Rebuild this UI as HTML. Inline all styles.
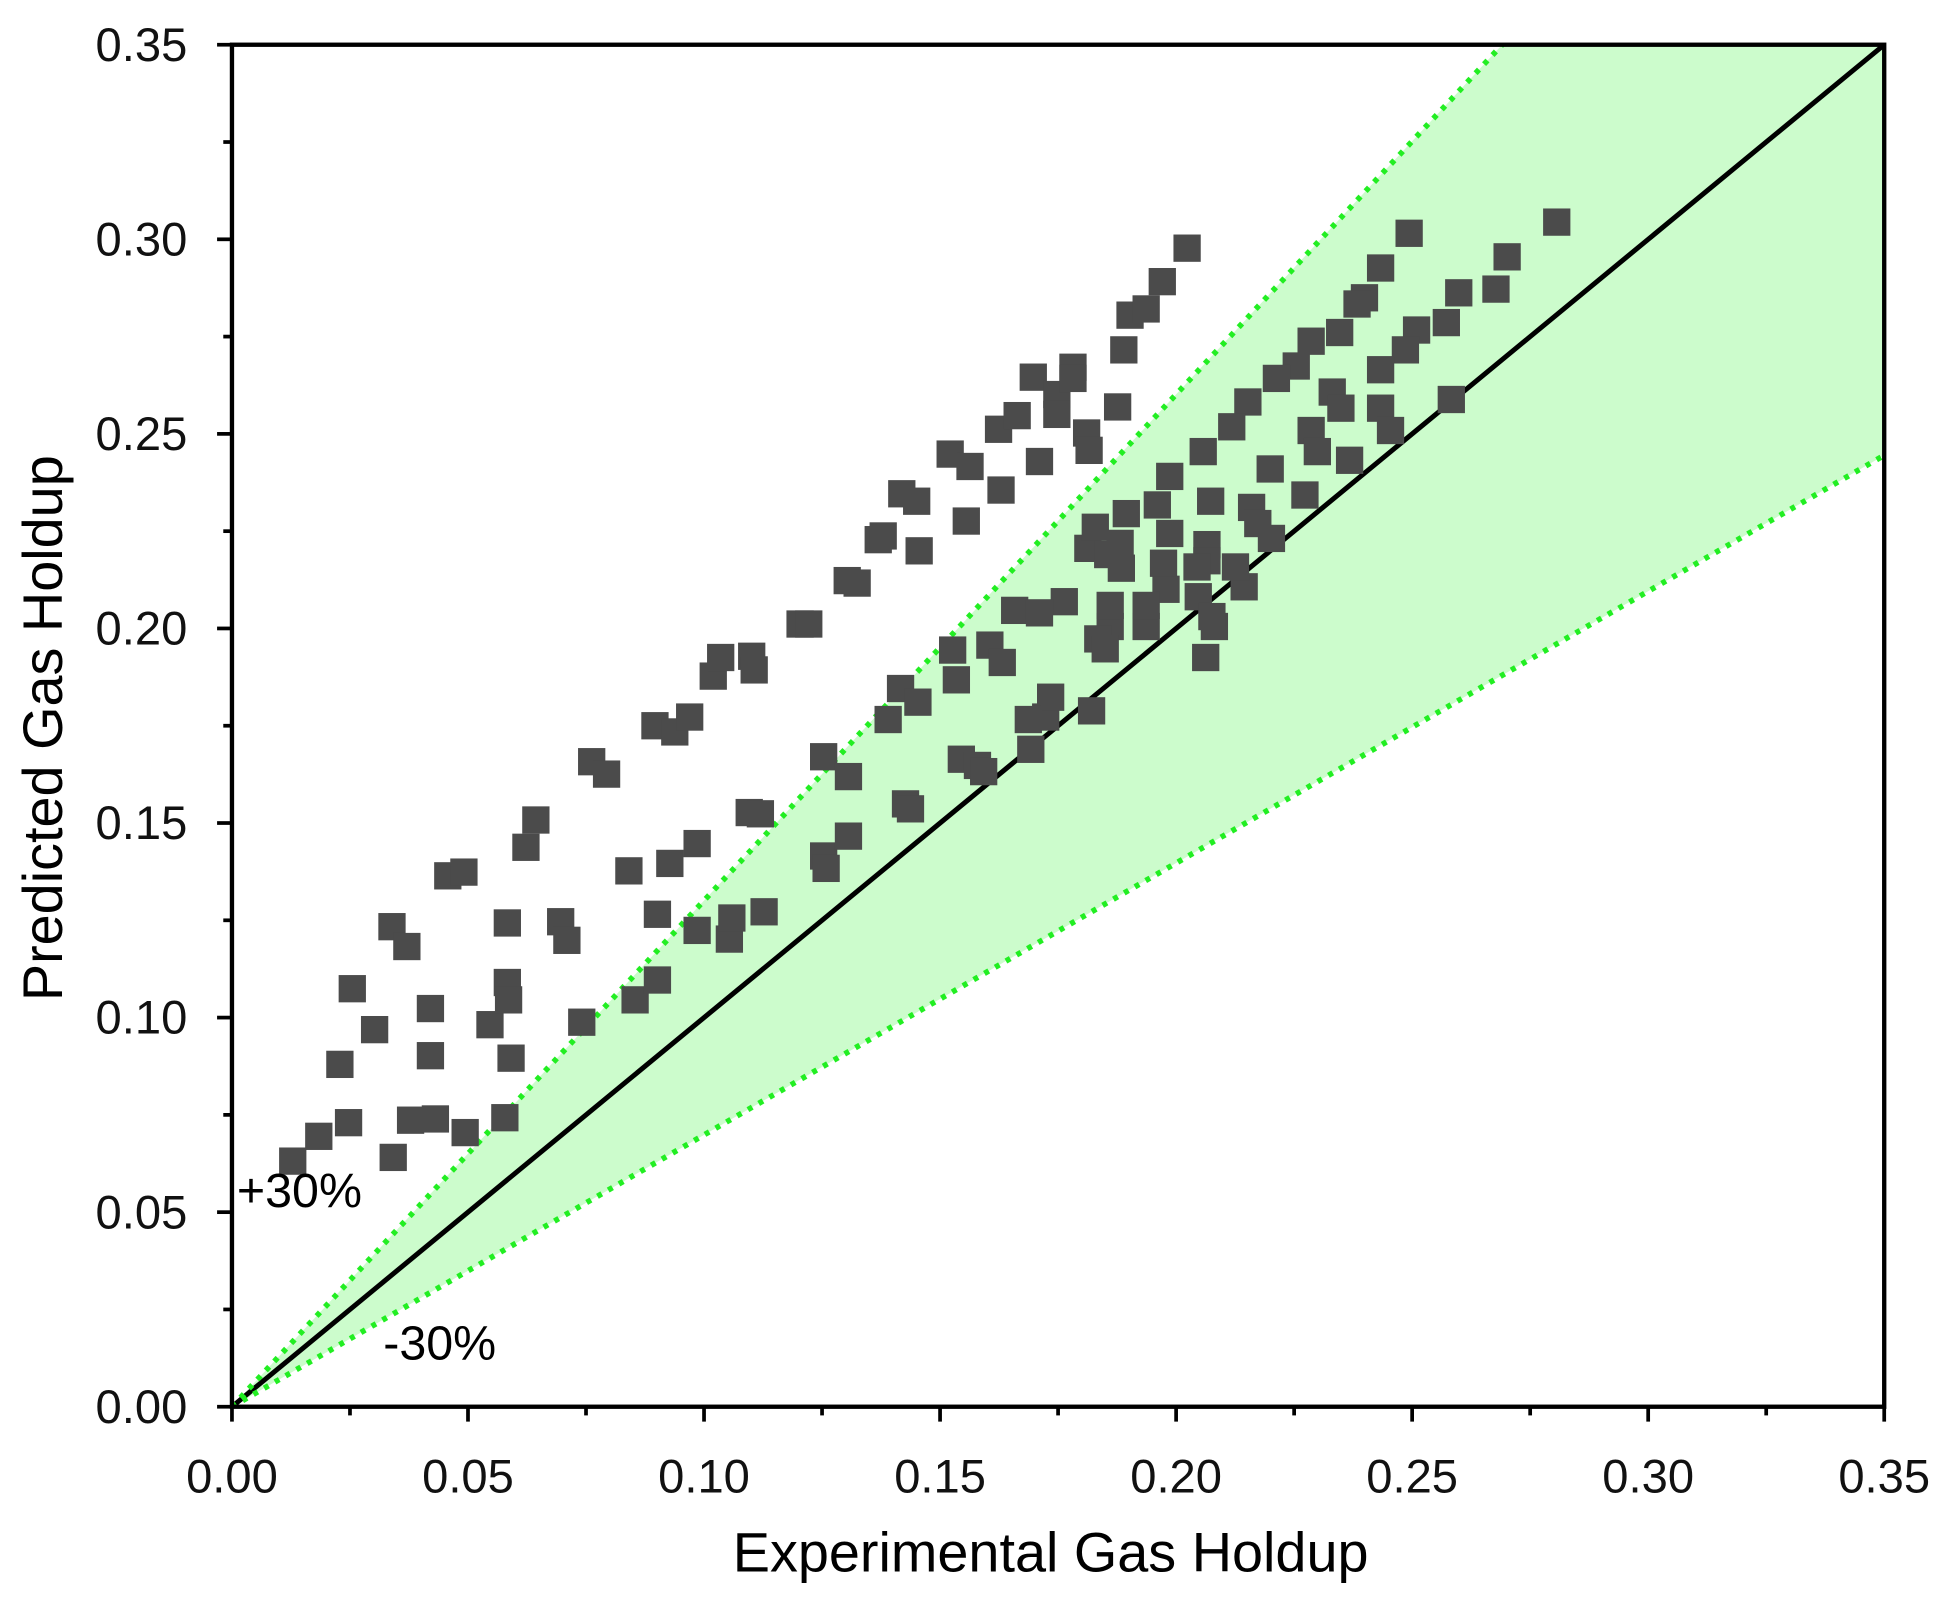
<!DOCTYPE html>
<html><head><style>html,body{margin:0;padding:0;background:#fff}svg{display:block}</style></head>
<body>
<svg width="1945" height="1609" viewBox="0 0 1568 1297" xmlns="http://www.w3.org/2000/svg" font-family="Liberation Sans, Arial, sans-serif">
<polygon points="187,1134 1211,36 1519,36 1519,367" fill="#ccfccc"/>
<line x1="187" y1="1134" x2="1519" y2="36" stroke="#000" stroke-width="4"/>
<line x1="187" y1="1134" x2="1211" y2="36" stroke="#22ee22" stroke-width="4.5" stroke-dasharray="4,6"/>
<line x1="187" y1="1134" x2="1519" y2="367" stroke="#22ee22" stroke-width="4.5" stroke-dasharray="4,6"/>
<g fill="#4b4b4b" id="pts"></g>
<rect x="187" y="36" width="1332" height="1098" fill="none" stroke="#000" stroke-width="3.5"/>
<g stroke="#000" stroke-width="3" id="ticks"></g>
<g font-size="38" fill="#111" id="labels"></g>
<text x="191" y="973" font-size="39">+30%</text>
<text x="309" y="1096" font-size="39">-30%</text>
<text x="847" y="1267" font-size="45" text-anchor="middle">Experimental Gas Holdup</text>
<text transform="translate(50,587) rotate(-90)" font-size="45" text-anchor="middle">Predicted Gas Holdup</text>
<script>
var pts=[[236,936],[257,916],[281,905],[274,858],[284,797],[302,830],[316,747],[328,763],[317,933],[331,903],[347,813],[351,902],[347,851],[361,706],[374,703],[375,913],[395,826],[409,792],[409,744],[412,853],[407,901],[410,806],[424,683],[432,661],[452,743],[457,758],[469,824],[477,614],[489,624],[507,702],[512,806],[528,585],[530,737],[544,590],[556,578],[562,680],[575,545],[581,530],[606,529],[608,540],[645,503],[652,503],[683,468],[691,470],[708,435],[712,432],[727,398],[739,404],[741,444],[766,366],[782,376],[779,420],[805,346],[807,395],[820,335],[833,304],[838,372],[852,318],[865,296],[876,349],[901,328],[906,282],[911,254],[924,249],[937,227],[957,200],[852,334],[878,363],[865,305],
[530,790],[540,696],[562,750],[588,757],[590,740],[604,655],[613,656],[616,735],[664,610],[664,690],[666,700],[684,626],[684,674],[716,580],[726,555],[730,648],[734,652],[740,566],[768,524],[771,548],[775,612],[788,617],[793,622],[798,520],
[1255,179],[1136,188],[1215,207],[1113,216],[1206,233],[1176,236],[1100,240],[1094,245],[1142,266],[1080,268],[1166,260],[1057,275],[1045,295],[1133,282],[1113,298],[1029,305],[1006,324],[1074,316],[1170,322],[1081,329],[1113,329],[993,344],[1121,347],[970,364],[1057,347],[1062,364],[1088,371],[943,384],[933,407],[908,414],[1024,378],[1052,399],[976,404],[1009,409],[1014,422],[1025,434],[943,430],[973,439],[973,452],[877,442],[893,447],[904,458],[858,485],[940,475],[966,481],[1003,473],[895,505],[924,505],[979,505],
[808,534],[818,492],[831,604],[838,494],[843,578],[847,562],[829,580],[885,515],[891,523],[895,488],[924,488],[938,454],[965,457],[972,530],[977,497],[996,457],[883,425],[903,438],[880,573]];
var ns="http://www.w3.org/2000/svg",g=document.getElementById('pts');
pts.forEach(function(p){var r=document.createElementNS(ns,'rect');r.setAttribute('x',p[0]-11);r.setAttribute('y',p[1]-11);r.setAttribute('width',22);r.setAttribute('height',22);g.appendChild(r);});
var t=document.getElementById('ticks'),L=document.getElementById('labels');
function ln(a,b,c,d){var l=document.createElementNS(ns,'line');l.setAttribute('x1',a);l.setAttribute('y1',b);l.setAttribute('x2',c);l.setAttribute('y2',d);t.appendChild(l);}
function tx(x,y,s,anc){var e=document.createElementNS(ns,'text');e.setAttribute('x',x);e.setAttribute('y',y);e.setAttribute('text-anchor',anc);e.textContent=s;L.appendChild(e);}
for(var i=0;i<=14;i++){var x=187+i*1332/14,y=1134-i*1098/14,maj=i%2==0;
ln(x,1134,x,1134+(maj?12:7));ln(187,y,187-(maj?12:7),y);
if(maj){var s=(i*0.025).toFixed(2);tx(x,1203,s,'middle');tx(151,y+13,s,'end');}}
</script>
</svg>
</body></html>
